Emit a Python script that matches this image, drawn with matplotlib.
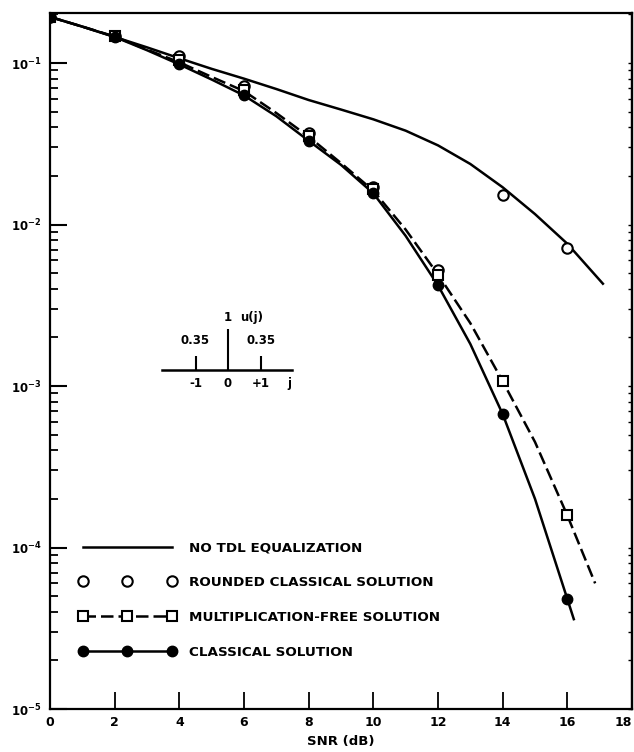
import numpy as np
import matplotlib
matplotlib.use('Agg')
import matplotlib.pyplot as plt
from matplotlib.ticker import LogLocator, FixedLocator, FuncFormatter, NullFormatter
from matplotlib.lines import Line2D

plt.rcParams['font.family'] = ['DejaVu Sans']
plt.rcParams['font.weight'] = 'bold'
plt.rcParams['mathtext.default'] = 'bf'

# --- curves ---
snr_no_tdl = [0, 1, 2, 3, 4, 5, 6, 7, 8, 9, 10, 11, 12, 13, 14, 15, 16, 17.1]
ber_no_tdl = [0.193, 0.168, 0.145, 0.125, 0.107, 0.092, 0.080, 0.069, 0.059, 0.0515,
              0.0448, 0.0381, 0.0309, 0.0237, 0.0170, 0.0116, 0.0076, 0.0043]

snr_classic_curve = [0, 1, 2, 3, 4, 5, 6, 7, 8, 9, 10, 11, 12, 13, 14, 15, 16, 16.2]
ber_classic_curve = [0.193, 0.168, 0.145, 0.12, 0.098, 0.079, 0.063, 0.0468, 0.033, 0.0234,
                     0.0156, 0.0085, 0.0042, 0.00182, 6.7e-4, 2.0e-4, 4.8e-5, 3.6e-5]

snr_mfree_curve = [0, 1, 2, 3, 4, 5, 6, 7, 8, 9, 10, 11, 12, 13, 14, 15, 16, 16.86]
ber_mfree_curve = [0.193, 0.168, 0.146, 0.121, 0.101, 0.082, 0.067, 0.049, 0.035, 0.024,
                   0.0162, 0.0093, 0.0049, 0.00245, 1.07e-3, 4.5e-4, 1.58e-4, 6.0e-5]

# --- plotted points ---
snr_pts = [0, 2, 4, 6, 8, 10, 12, 14, 16]
ber_classic_pts = [0.193, 0.145, 0.098, 0.063, 0.033, 0.0156, 0.0042, 6.7e-4, 4.8e-5]
ber_mfree_pts = [0.193, 0.146, 0.104, 0.068, 0.0355, 0.0165, 0.0049, 1.07e-3, 1.58e-4]
ber_rounded_pts = [0.193, 0.147, 0.110, 0.072, 0.0367, 0.017, 0.0052, 0.0153, 0.0072]

# inset: equalizer taps
taps = [-1, 0, 1]
tap_weights = [0.35, 1.0, 0.35]
tap_labels = ['-1', '0', '+1']

fig = plt.figure(figsize=(6.34, 7.52), dpi=100)
ax = fig.add_axes([50 / 634, 43 / 752, 582 / 634, 696 / 752])

lw = 1.8
ax.plot(snr_no_tdl, ber_no_tdl, color='black', lw=lw, zorder=2)
ax.plot(snr_mfree_curve, ber_mfree_curve, color='black', lw=lw, dashes=(5, 2), zorder=2)
ax.plot(snr_classic_curve, ber_classic_curve, color='black', lw=lw, zorder=2)

ax.plot(snr_pts, ber_rounded_pts, ls='none', marker='o', ms=7.5, mfc='white',
        mec='black', mew=1.5, zorder=3)
ax.plot(snr_pts, ber_mfree_pts, ls='none', marker='s', ms=6.5, mfc='white',
        mec='black', mew=1.5, zorder=4)
ax.plot(snr_pts, ber_classic_pts, ls='none', marker='o', ms=7.5, mfc='black',
        mec='black', zorder=5)

ax.set_yscale('log')
ax.set_xlim(0, 18)
ax.set_ylim(1e-5, 0.204)

ax.xaxis.set_major_locator(FixedLocator(np.arange(0, 19, 2)))
ax.yaxis.set_major_locator(LogLocator(base=10, numticks=10))
ax.yaxis.set_minor_locator(LogLocator(base=10, subs=np.arange(2, 10), numticks=10))
ax.yaxis.set_major_formatter(FuncFormatter(lambda v, p: r'$10^{%d}$' % round(np.log10(v))))
ax.yaxis.set_minor_formatter(NullFormatter())

ax.tick_params(axis='x', which='major', direction='in', length=12, width=1.3,
               labelsize=9, pad=5)
ax.tick_params(axis='y', which='major', direction='in', length=12, width=1.5,
               labelsize=8.5, pad=6)
ax.tick_params(axis='y', which='minor', direction='in', length=6, width=1.3)
for t in ax.get_xticklabels():
    t.set_fontweight('bold')
ax.get_xticklabels()[-1].set_horizontalalignment('right')

# small ticks on the right frame
sec = ax.secondary_yaxis('right')
sec.yaxis.set_major_locator(LogLocator(base=10, numticks=10))
sec.yaxis.set_minor_locator(LogLocator(base=10, subs=np.arange(2, 10), numticks=10))
sec.yaxis.set_major_formatter(NullFormatter())
sec.yaxis.set_minor_formatter(NullFormatter())
sec.tick_params(which='both', direction='in', length=3, width=1)
sec.spines['right'].set_linewidth(1.6)

for s in ax.spines.values():
    s.set_linewidth(1.6)

ax.set_xlabel('SNR (dB)', fontsize=9.5, fontweight='bold', labelpad=4)

# legend
handles = [
    Line2D([], [], color='black', lw=lw),
    Line2D([], [], ls='none', marker='o', ms=7.5, mfc='white', mec='black', mew=1.5),
    Line2D([], [], color='black', lw=lw, dashes=(5, 2), marker='s', ms=6.5,
           mfc='white', mec='black', mew=1.5),
    Line2D([], [], color='black', lw=lw, marker='o', ms=7.5, mfc='black', mec='black'),
]
labels = ['NO TDL EQUALIZATION', 'ROUNDED CLASSICAL SOLUTION',
          'MULTIPLICATION-FREE SOLUTION', 'CLASSICAL SOLUTION']
ax.legend(handles, labels, loc='upper left', bbox_to_anchor=(0.0498, 0.241),
          frameon=False, numpoints=3, handlelength=7.2, handletextpad=0.95,
          labelspacing=1.62, borderpad=0, borderaxespad=0,
          prop={'size': 9.7, 'weight': 'bold'})

# inset stem diagram
ins = ax.inset_axes([100 / 582, 314 / 696, 160 / 582, 95 / 696])
ins.set_xlim(-2.4, 2.52)
ins.set_ylim(-0.61, 1.71)
ins.axis('off')
ins.plot([-2.03, 1.97], [0, 0], color='black', lw=1.8)
ins.vlines(taps, 0, tap_weights, color='black', lw=1.5)
for x, w in zip(taps, tap_weights):
    if x != 0:
        ins.text(x, w + 0.22, f'{w:.2f}', ha='center', va='bottom', fontsize=8.5,
                 fontweight='bold')
ins.text(0, 1.29, '1', ha='center', va='center', fontsize=8.5, fontweight='bold')
ins.text(0.38, 1.29, 'u(j)', ha='left', va='center', fontsize=8.5, fontweight='bold')
for x, l in zip(taps, tap_labels):
    ins.text(x, -0.32, l, ha='center', va='center', fontsize=8.5, fontweight='bold')
ins.text(1.9, -0.32, 'j', ha='center', va='center', fontsize=8.5, fontweight='bold')

fig.savefig('out.png', dpi=100, facecolor='white')
